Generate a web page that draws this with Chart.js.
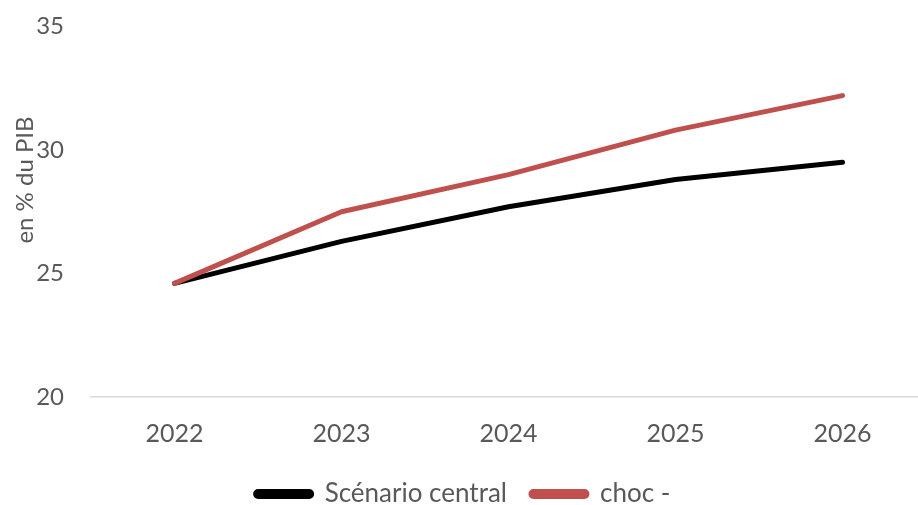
<!DOCTYPE html>
<html>
<head>
<meta charset="utf-8">
<script src="https://cdn.jsdelivr.net/npm/chart.js@4.4.1/dist/chart.umd.min.js"></script>
<style>
  html, body { margin: 0; padding: 0; background: #fff; overflow: hidden; }
  #wrap { position: absolute; left: 0; top: -15px; width: 926px; height: 532px; }
</style>
</head>
<body>
<div id="wrap"><canvas id="c"></canvas></div>
<script>
const categories = ["2022", "2023", "2024", "2025", "2026"];
const scenarioCentral = [24.6, 26.3, 27.7, 28.8, 29.5];
const chocMoins = [24.6, 27.5, 29.0, 30.8, 32.2];
const seriesNames = ["Scénario central", "choc -"];
const yTicks = [20, 25, 30, 35];
const yTitle = "en % du PIB";

const FONT = "Lato, 'Open Sans', sans-serif";
const TEXT = "#595959";

const yTitlePlugin = {
  id: "yTitlePlugin",
  afterDraw(chart) {
    const ctx = chart.ctx;
    ctx.save();
    ctx.translate(25, 195);
    ctx.rotate(-Math.PI / 2);
    ctx.font = "24px " + FONT;
    ctx.fillStyle = TEXT;
    ctx.textAlign = "center";
    ctx.textBaseline = "middle";
    ctx.fillText(yTitle, 0, 0);
    ctx.restore();
  }
};

new Chart(document.getElementById("c"), {
  type: "line",
  data: {
    labels: categories,
    datasets: [
      { label: seriesNames[0], data: scenarioCentral, borderColor: "#000000", backgroundColor: "#000000",
        borderWidth: 5, pointRadius: 0, borderCapStyle: "round", borderJoinStyle: "round", order: 2 },
      { label: seriesNames[1], data: chocMoins, borderColor: "#C0504D", backgroundColor: "#C0504D",
        borderWidth: 5, pointRadius: 0, borderCapStyle: "round", borderJoinStyle: "round", order: 1 }
    ]
  },
  options: {
    responsive: true,
    maintainAspectRatio: false,
    animation: false,
    layout: { padding: { top: 0, right: 0, left: 0, bottom: 0 } },
    plugins: {
      legend: {
        position: "bottom",
        labels: {
          color: TEXT,
          font: { family: FONT, size: 26 },
          boxWidth: 56,
          boxHeight: 5,
          useBorderRadius: true,
          borderRadius: 2.5,
          padding: 24,
          sort: (a, b) => a.datasetIndex - b.datasetIndex
        }
      },
      tooltip: { enabled: false }
    },
    scales: {
      x: {
        offset: true,
        afterFit(scale) { scale.height = 60; },
        grid: { display: false, drawTicks: false },
        border: { display: true, color: "#D9D9D9", width: 1.5 },
        ticks: { color: TEXT, font: { family: FONT, size: 25 }, padding: 22, maxRotation: 0 }
      },
      y: {
        min: 20, max: 35,
        afterBuildTicks(scale) { scale.ticks = yTicks.map(v => ({ value: v })); },
        afterFit(scale) { scale.width = 91; },
        grid: { display: false, drawTicks: false },
        border: { display: false },
        ticks: { color: TEXT, font: { family: FONT, size: 24 }, padding: 27 }
      }
    }
  },
  plugins: [yTitlePlugin]
});
</script>
</body>
</html>
